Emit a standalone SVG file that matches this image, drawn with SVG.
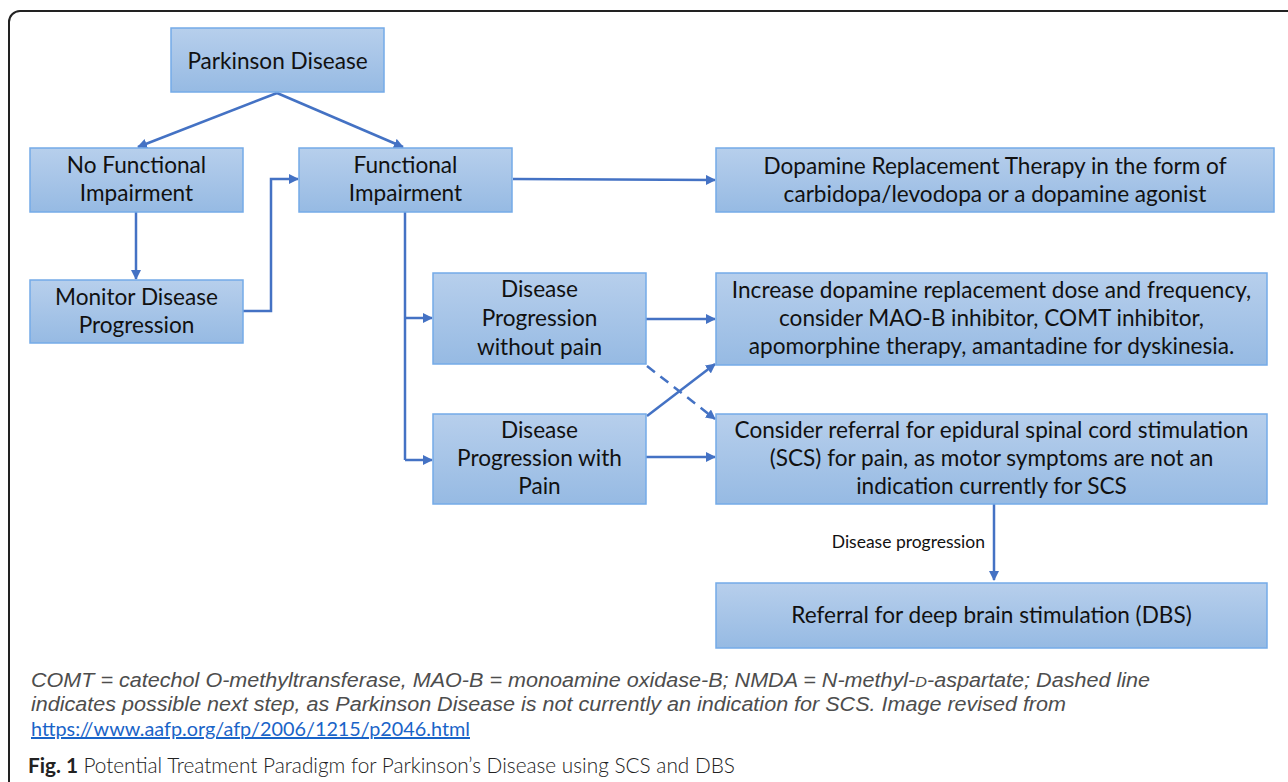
<svg xmlns="http://www.w3.org/2000/svg" width="1288" height="782" viewBox="0 0 1288 782">
<defs>
<linearGradient id="boxg" x1="0" y1="0" x2="0" y2="1">
<stop offset="0" stop-color="#b7cfec"/>
<stop offset="1" stop-color="#96bae3"/>
</linearGradient>
<marker id="arr" viewBox="0 0 10 10" refX="9" refY="5" markerWidth="4" markerHeight="4" orient="auto" markerUnits="strokeWidth">
<path d="M0,0 L10,5 L0,10 z" fill="#4472c4"/>
</marker>
<style>
.box{fill:url(#boxg);stroke:#74abe8;stroke-width:1.5}
.t{font-family:Lato,"Open Sans",sans-serif;font-size:22.6px;fill:#111;text-anchor:middle}
.c{fill:none;stroke:#4472c4;stroke-width:2.5}
.a{marker-end:url(#arr)}
.cap{font-family:"Liberation Sans",Arial,sans-serif;font-style:italic;font-size:20px;fill:#4d4d4d}
</style>
</defs>
<rect x="9" y="11" width="1290" height="800" rx="11" fill="#fff" stroke="#222" stroke-width="2"/>
<g id="connectors">
<path class="c a" d="M277,93 L138,147"/>
<path class="c a" d="M277,93 L403,147"/>
<path class="c a" d="M136,212 V279"/>
<path class="c a" d="M243,311 H271 V179 H298"/>
<path class="c a" d="M513,179 L715,180"/>
<path class="c" d="M405,212 V460"/>
<path class="c a" d="M405,318 H432"/>
<path class="c a" d="M405,460 H432"/>
<path class="c a" d="M646,319 H715"/>
<path class="c a" d="M646,457 H715"/>
<path class="c a" d="M647,416 L715,364"/>
<path class="c a" d="M647,366 L715,419" stroke-dasharray="10,7"/>
<path class="c a" d="M994,504 V580"/>
<text x="985" y="548" style="font-family:Lato,'Open Sans',sans-serif;font-size:17.5px;fill:#111;text-anchor:end">Disease progression</text>
</g>
<g id="parkinson">
<rect class="box" x="171" y="28" width="213" height="64"/>
<text class="t" x="277.5" y="69">Parkinson Disease</text>
</g>
<g id="no-functional">
<rect class="box" x="30" y="148" width="213" height="64"/>
<text class="t" x="136.5" y="173">No Functional</text>
<text class="t" x="136.5" y="201">Impairment</text>
</g>
<g id="functional">
<rect class="box" x="299" y="148" width="213" height="64"/>
<text class="t" x="405.5" y="173">Functional</text>
<text class="t" x="405.5" y="201">Impairment</text>
</g>
<g id="monitor">
<rect class="box" x="30" y="280" width="213" height="63"/>
<text class="t" x="136.5" y="305">Monitor Disease</text>
<text class="t" x="136.5" y="333">Progression</text>
</g>
<g id="prog-without-pain">
<rect class="box" x="433" y="273" width="213" height="91"/>
<text class="t" x="539.5" y="297">Disease</text>
<text class="t" x="539.5" y="326">Progression</text>
<text class="t" x="539.5" y="355">without pain</text>
</g>
<g id="prog-with-pain">
<rect class="box" x="433" y="414" width="213" height="90"/>
<text class="t" x="539.5" y="438">Disease</text>
<text class="t" x="539.5" y="466">Progression with</text>
<text class="t" x="539.5" y="494">Pain</text>
</g>
<g id="dopamine">
<rect class="box" x="716" y="148" width="558" height="64"/>
<text class="t" x="995" y="174">Dopamine Replacement Therapy in the form of</text>
<text class="t" x="995" y="202">carbidopa/levodopa or a dopamine agonist</text>
</g>
<g id="increase">
<rect class="box" x="716" y="273" width="551" height="92"/>
<text class="t" x="991.5" y="298">Increase dopamine replacement dose and frequency,</text>
<text class="t" x="991.5" y="326">consider MAO-B inhibitor, COMT inhibitor,</text>
<text class="t" x="991.5" y="354">apomorphine therapy, amantadine for dyskinesia.</text>
</g>
<g id="consider-scs">
<rect class="box" x="716" y="414" width="551" height="90"/>
<text class="t" x="991.5" y="438">Consider referral for epidural spinal cord stimulation</text>
<text class="t" x="991.5" y="466">(SCS) for pain, as motor symptoms are not an</text>
<text class="t" x="991.5" y="494">indication currently for SCS</text>
</g>
<g id="dbs">
<rect class="box" x="716" y="583" width="551" height="65"/>
<text class="t" x="991.5" y="623">Referral for deep brain stimulation (DBS)</text>
</g>
<g id="caption">
<text class="cap" x="31" y="687" textLength="1119" lengthAdjust="spacingAndGlyphs">COMT = catechol O-methyltransferase, MAO-B = monoamine oxidase-B; NMDA = N-methyl-<tspan font-size="15">D</tspan>-aspartate; Dashed line</text>
<text class="cap" x="31" y="711" textLength="1035" lengthAdjust="spacingAndGlyphs">indicates possible next step, as Parkinson Disease is not currently an indication for SCS. Image revised from</text>
<text x="31" y="736" textLength="439" lengthAdjust="spacingAndGlyphs" style="font-family:Lato,'Open Sans',sans-serif;font-size:20px;fill:#1a64c8;text-decoration:underline">https://www.aafp.org/afp/2006/1215/p2046.html</text>
<text x="28" y="773" textLength="707" lengthAdjust="spacingAndGlyphs" style="font-family:Lato,'Open Sans',sans-serif;font-size:21px;fill:#222"><tspan font-weight="bold">Fig. 1</tspan> <tspan font-weight="300">Potential Treatment Paradigm for Parkinson’s Disease using SCS and DBS</tspan></text>
</g>
</svg>
